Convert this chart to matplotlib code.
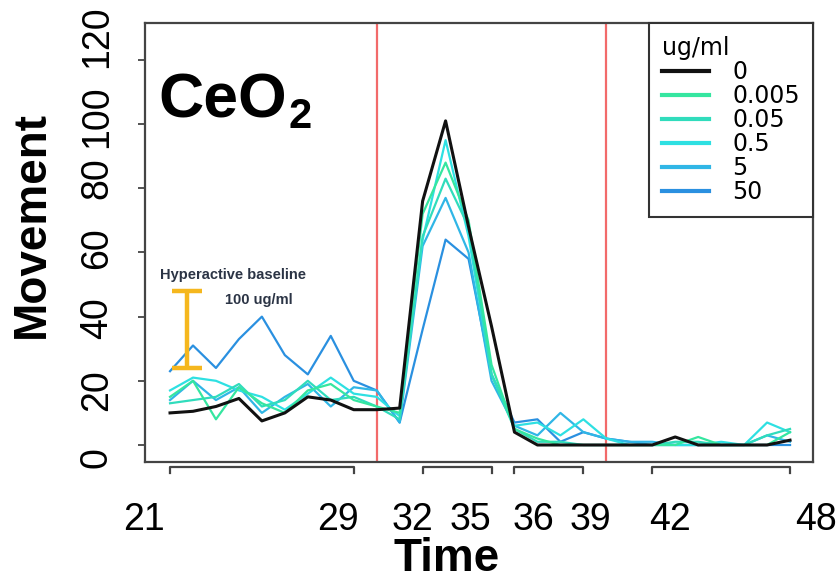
import numpy as np
import matplotlib
matplotlib.use("Agg")
from matplotlib import pyplot as plt
from matplotlib import font_manager
import matplotlib.transforms as mtransforms

# ---- data ----
time = list(range(21, 49))
conc_labels = ["0", "0.005", "0.05", "0.5", "5", "50"]
move_0 = [10, 10.5, 12, 14.5, 7.5, 10, 15, 14, 11, 11, 11.5, 76, 101, 68, 37, 4,
          0, 0, 0, 0, 0, 0, 2.5, 0, 0, 0, 0, 1.5]
move_0005 = [15, 20, 8, 18, 13, 10, 17, 19, 14, 12, 10, 72, 88, 70, 25, 5,
             2, 0, 0, 0, 0, 0, 0, 2.5, 0, 0, 0, 4]
move_005 = [13, 14, 15, 19, 12, 14, 20, 14, 15, 12, 8, 65, 83, 68, 22, 5,
            1, 1, 0, 0, 0, 0, 1, 1, 0, 0, 3, 5]
move_05 = [17, 21, 20, 17, 15, 11, 16, 21, 16, 15, 9, 64, 95, 65, 22, 6,
           7, 3, 8, 2, 0, 0, 0, 0, 1, 0, 7, 4]
move_5 = [14, 20, 14, 18, 10, 15, 19, 12, 18, 17, 7, 62, 77, 60, 20, 6,
          3, 10, 4, 2, 1, 1, 0, 0, 0, 0, 3, 1]
move_50 = [23, 31, 24, 33, 40, 28, 22, 34, 20, 17, 7, 36, 64, 58, 22, 7,
           8, 1, 4, 2, 1, 0, 0, 0, 0, 0, 0, 0]
series = [move_0, move_0005, move_005, move_05, move_5, move_50]
colors = ["#111111", "#35e6a0", "#30dcbc", "#2ee0e2", "#30b6e6", "#2a90e0"]

phase_bounds = [30, 40]
axis_groups = [(21, 29), (32, 35), (36, 39), (42, 48)]
xtick_vals = [21, 29, 32, 35, 36, 39, 42, 48]
ytick_vals = [0, 20, 40, 60, 80, 100, 120]

# hyperactive baseline at 100 ug/ml
hyper_x = 21.75
hyper_mean = 36
hyper_err = 12

W, H = 837, 584

# pick a condensed font for the tick numbers when it is available
names = {f.name for f in font_manager.fontManager.ttflist}
narrow = "Liberation Sans Narrow" if "Liberation Sans Narrow" in names else "Liberation Sans"
plt.rcParams["font.family"] = ["Liberation Sans", "DejaVu Sans"]


def fx(px):
    return px / W


def fy(py):
    return 1 - py / H


fig = plt.figure(figsize=(W / 100, H / 100), dpi=100)
ax = fig.add_axes([fx(145), fy(462), (813 - 145) / W, (462 - 23) / H])
ax.set_xlim(19.91, 49.0)
ax.set_ylim(-5.3, 131.5)

for s in ax.spines.values():
    s.set_color("#444444")
    s.set_linewidth(1.6)

# concentration lines, black control on top
for vals, lab, col, z in zip(series, conc_labels, colors, [8, 6, 5, 4, 3, 2]):
    ax.plot(time, vals, color=col, lw=1.6 if lab != "0" else 2.2, label=lab, zorder=z)

for b in phase_bounds:
    ax.axvline(b, color="#f26a6a", lw=1.6, zorder=1)

ax.errorbar([hyper_x], [hyper_mean], yerr=[hyper_err], color="#f5b71e",
            elinewidth=3.2, capsize=11, capthick=3.2, zorder=9)
ax.text(20.56, 53, "Hyperactive baseline", fontsize=10.5, fontweight="bold",
        color="#2b3445", ha="left", va="center")
ax.text(24.85, 45.2, "100 ug/ml", fontsize=10.5, fontweight="bold",
        color="#2b3445", ha="center", va="center")

# y ticks only as marks, labels placed below by hand
ax.set_yticks(ytick_vals)
ax.set_yticklabels([])
ax.tick_params(axis="y", length=5, width=1.3, color="#444444", direction="out")
ax.set_xticks([])

# R-style bracket axis under the frame
trans = mtransforms.blended_transform_factory(ax.transData, ax.transAxes)
for a, b in axis_groups:
    ax.plot([a, a, b, b], [-0.026, -0.012, -0.012, -0.026], color="#444444",
            lw=1.6, transform=trans, clip_on=False)

xlab_px = [144, 338, 412, 470, 533, 590, 670, 816]
for v, px in zip(xtick_vals, xlab_px):
    fig.text(fx(px), fy(520), str(v), family=narrow, fontsize=27,
             ha="center", va="center")
ylab_px = [458, 390, 318, 248, 178, 117, 37]
for v, py in zip(ytick_vals, ylab_px):
    fig.text(fx(97), fy(py), str(v), family=narrow, fontsize=27, rotation=90,
             ha="center", va="center")

fig.text(fx(447), fy(559), "Time", fontsize=33, fontweight="bold",
         ha="center", va="center")
fig.text(fx(32), fy(225), "Movement", fontsize=33, fontweight="bold",
         rotation=90, ha="center", va="center")

fig.text(fx(158), fy(117), "CeO", fontsize=45, fontweight="bold", va="baseline")
fig.text(fx(289), fy(128), "2", fontsize=30, fontweight="bold", va="baseline")

leg = ax.legend(title="ug/ml", loc="upper right", bbox_to_anchor=(1.0, 1.0),
                borderaxespad=0, fancybox=False, framealpha=1, edgecolor="#333333",
                prop={"family": "DejaVu Sans", "size": 17},
                title_fontproperties={"family": "DejaVu Sans", "size": 17},
                handlelength=2.0, handletextpad=1.0, labelspacing=0.0,
                borderpad=0.55, alignment="left")
leg.get_frame().set_linewidth(1.5)
for h in leg.get_lines():
    h.set_linewidth(3)
leg.set_zorder(20)

fig.savefig("out.png", dpi=100)
